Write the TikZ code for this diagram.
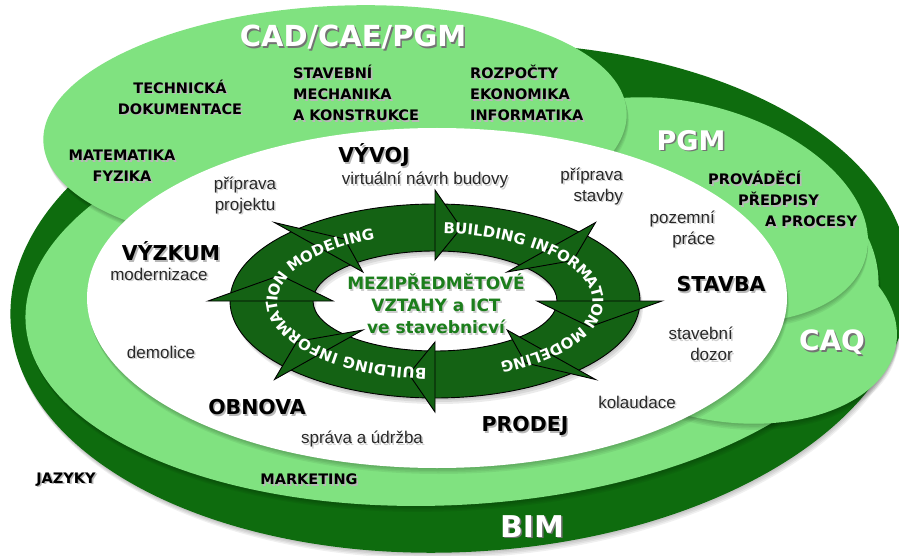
\documentclass[tikz,border=0pt]{standalone}
\usepackage{fontspec}
\setmainfont{Liberation Sans}
\newfontfamily\heavy{DejaVu Sans}
\usetikzlibrary{calc,decorations.text}
\definecolor{bimg}{RGB}{14,108,14}
\definecolor{lightg}{RGB}{128,226,128}
\definecolor{ringg}{RGB}{20,98,20}
\definecolor{txtg}{RGB}{28,126,28}
\definecolor{lblk}{RGB}{40,40,40}
\newcommand\shadowed[2]{%
  \foreach \s in {1.5,3,4.5,6}{\fill[black,opacity=0.06,shift={(0.3*\s,\s)}] #2;}
  \fill[#1] #2;}
\newcommand\tsh[2][black!28]{\makebox[0pt][l]{\raisebox{-1.6pt}{\kern1.6pt\textcolor{#1}{#2}}}#2}
\begin{document}
\begin{tikzpicture}[x=1pt,y=-1pt,
  grp/.style={font=\heavy\bfseries\fontsize{14.5}{21}\selectfont, text=black, inner sep=0pt},
  phase/.style={font=\heavy\bfseries\fontsize{20.5}{24}\selectfont, text=black, inner sep=0pt},
  act/.style={font=\fontsize{17}{21}\selectfont, text=lblk, inner sep=0pt},
  wlab/.style={text=white, inner sep=0pt},
  ringpart/.style={fill=ringg, draw=black, line width=0.9pt, line join=miter},
  ringtext/.style={decorate, decoration={text along path,
     text={|\heavy\bfseries\fontsize{15}{16}\selectfont\color{white}|BUILDING INFORMATION MODELING},
     text align={fit to path}, raise=-5.5pt}}]
\useasboundingbox (0,0) rectangle (899,556);
\fill[white] (0,0) rectangle (899,556);
% BIM outer ellipse
\begin{scope}[rotate around={3:(460,298)}]
\shadowed{bimg}{(460,298) ellipse [x radius=450, y radius=254]}
\end{scope}
% outer light ring
\begin{scope}[rotate around={3:(452,300)}]
\shadowed{lightg}{(452,300) ellipse [x radius=427, y radius=205]}
\end{scope}
% CAQ lobe
\begin{scope}[rotate around={-8:(730,320)}]
\shadowed{lightg}{(730,320) ellipse [x radius=168, y radius=102]}
\end{scope}
% PGM ellipse
\begin{scope}[rotate around={-15:(690,210)}]
\shadowed{lightg}{(690,210) ellipse [x radius=182, y radius=106]}
\end{scope}
% CAD/CAE/PGM ellipse
\begin{scope}[rotate around={3:(335,127)}]
\shadowed{lightg}{(335,127) ellipse [x radius=292, y radius=121]}
\end{scope}
% white inner ellipse
\shadowed{white}{(437,298) ellipse [x radius=350, y radius=170]}
% ring of arrows
\coordinate (R) at (435,301);
\foreach \s in {2,4,6}{\fill[black,opacity=0.08,even odd rule,shift={(0.5*\s,\s)}]
  (435,301) ellipse [x radius=205, y radius=97] (435,301) ellipse [x radius=122, y radius=50];}
\filldraw[ringpart, even odd rule] (R) ellipse [x radius=205, y radius=97] (R) ellipse [x radius=122, y radius=50];
\foreach \a in {0,45,...,315}{
  \pgfmathsetmacro\d{0.26/sqrt((1.63*sin(\a))^2+(0.73*cos(\a))^2)*57.3}
  \filldraw[ringpart] ($(R)+(\a:227 and 111)$) -- ($(R)+({\a+\d}:165 and 74)$) -- ($(R)+(\a:102 and 41)$) -- cycle;}
\path[ringtext] ($(R)+(-87:163 and 73)$) arc [start angle=-87, end angle=66, x radius=163, y radius=73];
\path[ringtext] ($(R)+(93:163 and 73)$) arc [start angle=93, end angle=248, x radius=163, y radius=73];
% centre text
\node[font=\heavy\bfseries\fontsize{17}{22}\selectfont, text=txtg, align=center, inner sep=0pt] (mez) at (436,305)
  {\tsh[black!20]{MEZIPŘEDMĚTOVÉ}\\\tsh[black!20]{VZTAHY a ICT}\\\tsh[black!20]{ve stavebnicví}};
% white headings
\node[wlab, font=\heavy\bfseries\fontsize{29}{30}\selectfont] (cad) at (353,38) {\tsh[black!55]{CAD/CAE/PGM}};
\node[wlab, font=\heavy\bfseries\fontsize{27}{28}\selectfont] (pgm) at (691,141) {\tsh[black!55]{PGM}};
\node[wlab, font=\heavy\bfseries\fontsize{28}{29}\selectfont] (caq) at (832,343) {\tsh[black!55]{CAQ}};
\node[wlab, font=\heavy\bfseries\fontsize{30}{31}\selectfont] (bim) at (532,527) {\tsh[black!55]{BIM}};
% subject groups
\node[grp, align=center] (tech) at (180,98) {\tsh{TECHNICKÁ}\\\tsh{DOKUMENTACE}};
\node[grp, align=left, anchor=west] (stav) at (293,94) {\tsh{STAVEBNÍ}\\\tsh{MECHANIKA}\\\tsh{A KONSTRUKCE}};
\node[grp, align=left, anchor=west] (rozp) at (470,94) {\tsh{ROZPOČTY}\\\tsh{EKONOMIKA}\\\tsh{INFORMATIKA}};
\node[grp, align=center] (mat) at (122,167) {\tsh{MATEMATIKA}\\\tsh{FYZIKA}};
\node[grp, align=left, anchor=west] (prov) at (708,200) {\tsh{PROVÁDĚCÍ}\\\hspace*{30pt}\tsh{PŘEDPISY}\\\hspace*{57pt}\tsh{A PROCESY}};
\node[grp] (jaz) at (66,480) {\tsh{JAZYKY}};
\node[grp] (mark) at (309,480) {\tsh{MARKETING}};
% phases
\node[phase] (vyvoj) at (374,156) {\tsh{VÝVOJ}};
\node[phase] (vyzkum) at (171,252) {\tsh{VÝZKUM}};
\node[phase] (stavba) at (721,285) {\tsh{STAVBA}};
\node[phase] (prodej) at (525,427) {\tsh{PRODEJ}};
\node[phase] (obnova) at (257,408) {\tsh{OBNOVA}};
% activities
\node[act] (virt) at (425,181) {\tsh[black!18]{virtuální návrh budovy}};
\node[act, align=center] (ppro) at (245,196) {\tsh[black!18]{příprava}\\\tsh[black!18]{projektu}};
\node[act, align=right, anchor=east] (pstav) at (623,187) {\tsh[black!18]{příprava}\\\tsh[black!18]{stavby}};
\node[act, align=right, anchor=east] (poz) at (715,230) {\tsh[black!18]{pozemní}\\\tsh[black!18]{práce}};
\node[act, align=right, anchor=east] (doz) at (733,345) {\tsh[black!18]{stavební}\\\tsh[black!18]{dozor}};
\node[act] (kol) at (637,403) {\tsh[black!18]{kolaudace}};
\node[act] (sprava) at (362,440) {\tsh[black!18]{správa a údržba}};
\node[act] (dem) at (161,353) {\tsh[black!18]{demolice}};
\node[act] (mod) at (159,275) {\tsh[black!18]{modernizace}};
\end{tikzpicture}
\end{document}
